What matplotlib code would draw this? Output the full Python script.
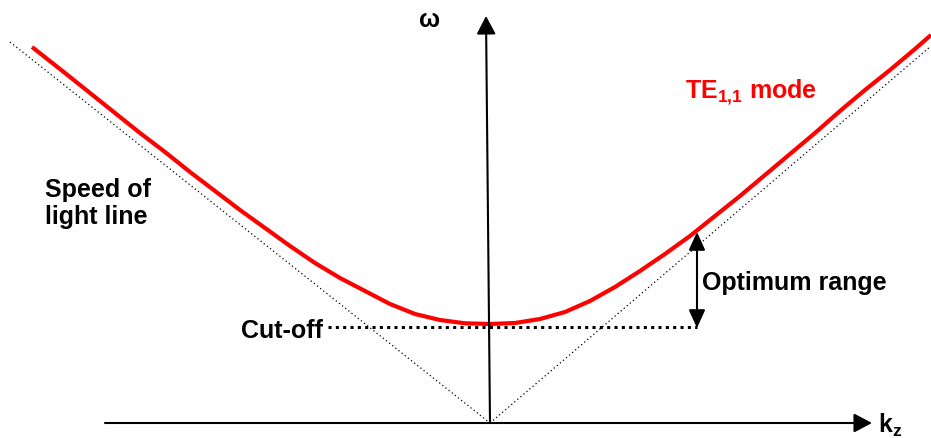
import matplotlib
matplotlib.use("Agg")
import matplotlib.pyplot as plt
from matplotlib.patches import FancyArrowPatch, ArrowStyle

plt.rcParams["font.family"] = ["Liberation Sans", "DejaVu Sans"]
plt.rcParams["mathtext.fontset"] = "custom"
plt.rcParams["mathtext.rm"] = "Liberation Sans:bold"
plt.rcParams["mathtext.it"] = "Liberation Sans:bold"
plt.rcParams["mathtext.bf"] = "Liberation Sans:bold"

# TE1,1 dispersion curve (k_z, omega), arbitrary units
mode_k = [-458, -425, -400, -375, -350, -325, -300, -275, -250, -225,
          -200, -175, -150, -125, -100, -75, -50, -25, 0,
          25, 50, 75, 100, 125, 150, 175, 200, 225, 250, 275, 300,
          325, 350, 375, 400, 425, 441]
mode_w = [376, 350, 330, 310, 290, 271, 251, 232, 213, 195,
          177, 160, 145, 132, 119, 109, 103, 99.7, 99,
          100, 104, 111, 122, 136, 152, 169, 187, 207, 227, 248, 269,
          290, 312, 333, 353, 374, 388]

# speed-of-light lines (end points of each branch)
light_left_k = [-480, 0]
light_left_w = [381, 0]
light_right_k = [0, 441]
light_right_w = [0, 377]

# cut-off frequency and the k_z where the optimum range ends
cutoff_w = 96
optimum_k = 207
optimum_top_w = 191
cutoff_line_k = [-162, 207]

fig = plt.figure(figsize=(9.31, 4.38), dpi=100)
ax = fig.add_axes([0, 0, 1, 1])
ax.set_xlim(-490, 441)
ax.set_ylim(-15, 423)
ax.axis("off")

# light lines
ax.plot(light_left_k, light_left_w, color="black", lw=0.9,
        linestyle=(0, (1, 2.2)), dash_capstyle="butt")
ax.plot(light_right_k, light_right_w, color="black", lw=0.9,
        linestyle=(0, (1, 2.2)), dash_capstyle="butt")

# cut-off line
ax.plot(cutoff_line_k, [cutoff_w, cutoff_w], color="black", lw=2.2,
        linestyle=(0, (1, 1.4)), dash_capstyle="butt")

# mode curve
ax.plot(mode_k, mode_w, color="#ff0000", lw=3.0, solid_capstyle="butt",
        solid_joinstyle="round", zorder=5)

axis_head = ArrowStyle("-|>", head_length=11, head_width=5.8)
ax.add_patch(FancyArrowPatch((-385, 0), (382, 0), arrowstyle=axis_head,
                             mutation_scale=1, lw=1.5, color="black",
                             shrinkA=0, shrinkB=0, zorder=6))
ax.add_patch(FancyArrowPatch((0, 0), (-4, 407), arrowstyle=axis_head,
                             mutation_scale=1, lw=1.5, color="black",
                             shrinkA=0, shrinkB=0, zorder=6))

range_head = ArrowStyle("<|-|>", head_length=11, head_width=5)
ax.add_patch(FancyArrowPatch((optimum_k, cutoff_w - 1), (optimum_k, optimum_top_w),
                             arrowstyle=range_head, mutation_scale=1, lw=1.5,
                             color="black", shrinkA=0, shrinkB=0, zorder=6))

fs = 18
ax.text(-71, 403, "ω", fontsize=fs, fontweight="bold", ha="left", va="center")
ax.text(388, -2, r"$\mathrm{k_z}$", fontsize=fs, ha="left", va="center")
ax.text(195, 325, r"$\mathrm{TE_{1{,}1}}$ mode", fontsize=fs, fontweight="bold",
        color="#ff0000", ha="left", va="baseline")
ax.text(-445, 199, "Speed of\nlight line", fontsize=fs, fontweight="bold",
        ha="left", va="baseline", linespacing=1.15)
ax.text(-167, 85, "Cut-off", fontsize=fs, fontweight="bold",
        ha="right", va="baseline")
ax.text(212, 133, "Optimum range", fontsize=fs, fontweight="bold",
        ha="left", va="baseline")

fig.savefig("out.png", dpi=100)
